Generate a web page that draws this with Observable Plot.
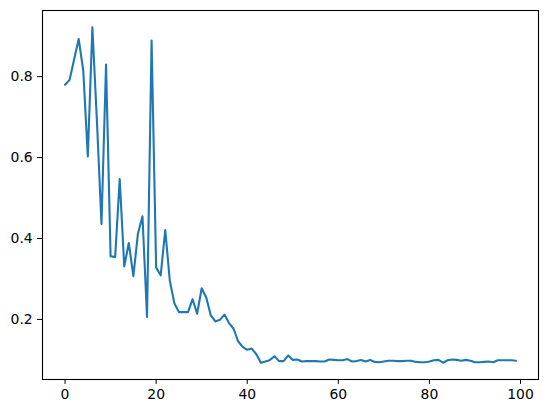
<!DOCTYPE html>
<html><head><meta charset="utf-8">
<script src="https://cdn.jsdelivr.net/npm/d3@7"></script>
<script src="https://cdn.jsdelivr.net/npm/@observablehq/plot@0.6"></script>
<style>body{margin:0;background:#fff}</style>
</head><body><div id="chart"></div>
<script>
// series values (x is the index 0..99)
const values = [
  0.780, 0.792, 0.843, 0.893, 0.815, 0.603, 0.922, 0.690, 0.436, 0.830,
  0.356, 0.354, 0.547, 0.331, 0.389, 0.307, 0.412, 0.455, 0.206, 0.889,
  0.328, 0.309, 0.421, 0.296, 0.240, 0.218, 0.218, 0.218, 0.250, 0.214,
  0.277, 0.254, 0.210, 0.195, 0.199, 0.212, 0.191, 0.177, 0.146, 0.132,
  0.125, 0.128, 0.114, 0.093, 0.096, 0.100, 0.109, 0.097, 0.097, 0.111,
  0.100, 0.101, 0.096, 0.097, 0.097, 0.097, 0.096, 0.096, 0.101, 0.100,
  0.099, 0.099, 0.102, 0.096, 0.097, 0.100, 0.096, 0.100, 0.095, 0.094,
  0.096, 0.098, 0.098, 0.097, 0.097, 0.098, 0.098, 0.095, 0.094, 0.094,
  0.096, 0.099, 0.100, 0.093, 0.099, 0.101, 0.100, 0.098, 0.100, 0.098,
  0.094, 0.094, 0.095, 0.096, 0.094, 0.099, 0.099, 0.099, 0.099, 0.098
];
const xTicks = [0, 20, 40, 60, 80, 100];
const yTicks = [0.2, 0.4, 0.6, 0.8];

const pad = (lo, hi) => { const r = hi - lo; return [lo - 0.05 * r, hi + 0.05 * r]; };
const xDomain = pad(0, values.length - 1);
const yDomain = pad(d3.min(values), d3.max(values));

const chart = Plot.plot({
  width: 547,
  height: 413,
  marginLeft: 42,
  marginRight: 9,
  marginTop: 10,
  marginBottom: 34,
  style: {fontFamily: "DejaVu Sans", fontSize: "13.9px", color: "#000", background: "#fff"},
  x: {domain: xDomain, ticks: xTicks, label: null, tickSize: 4.9, tickPadding: 4.9},
  y: {domain: yDomain, ticks: yTicks, label: null, tickSize: 4.9, tickPadding: 4.9, tickFormat: d3.format(".1f")},
  marks: [
    Plot.lineY(values, {stroke: "#1f77b4", strokeWidth: 2.1}),
    Plot.frame({stroke: "#000", strokeWidth: 1.1})
  ]
});
document.getElementById("chart").appendChild(chart);
</script>
</body></html>
